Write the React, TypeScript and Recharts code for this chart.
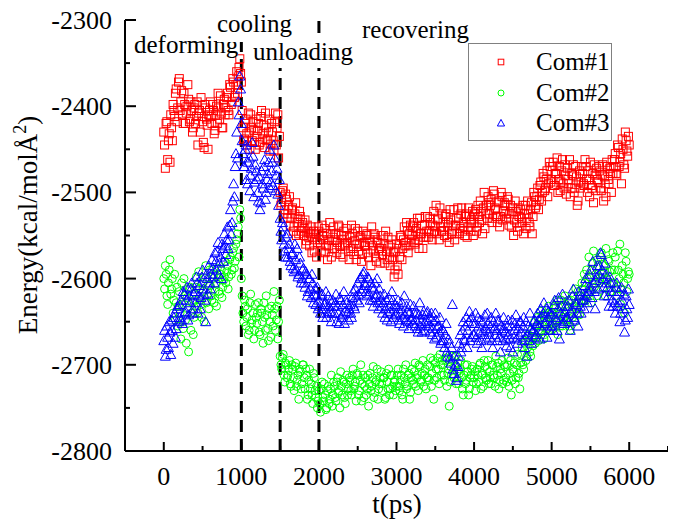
import { ScatterChart, Scatter, XAxis, YAxis, ReferenceLine, Legend } from 'recharts'

// sampled every 20 ps (0..6000), plus in-between samples at 10, 30, ... 5990 ps
const STEP = 20

const com1 = [
  -2430, -2472, -2418, -2440, -2465, -2425, -2398, -2412, -2380, -2402,
  -2368, -2395, -2410, -2385, -2420, -2400, -2392, -2415, -2405, -2425,
  -2398, -2412, -2445, -2405, -2390, -2418, -2448, -2402, -2422, -2410,
  -2395, -2420, -2405, -2428, -2400, -2385, -2415, -2408, -2425, -2392,
  -2402, -2385, -2410, -2378, -2395, -2372, -2388, -2360, -2366, -2345,
  -2372, -2425, -2438, -2415, -2445, -2430, -2410, -2440, -2428, -2450,
  -2435, -2420, -2442, -2405, -2432, -2448, -2425, -2438, -2415, -2444,
  -2430, -2452, -2408, -2425, -2460, -2500, -2512, -2495, -2520, -2508,
  -2525, -2505, -2530, -2518, -2540, -2512, -2535, -2548, -2528, -2540,
  -2550, -2532, -2556, -2545, -2562, -2540, -2552, -2568, -2548, -2558,
  -2545, -2560, -2538, -2555, -2570, -2548, -2562, -2535, -2575, -2552,
  -2565, -2548, -2558, -2540, -2572, -2555, -2545, -2562, -2550, -2568,
  -2552, -2538, -2565, -2556, -2578, -2545, -2560, -2550, -2572, -2558,
  -2562, -2548, -2575, -2555, -2540, -2568, -2552, -2580, -2558, -2565,
  -2550, -2572, -2560, -2545, -2578, -2562, -2585, -2555, -2570, -2590,
  -2560, -2595, -2575, -2552, -2565, -2540, -2558, -2545, -2562, -2538,
  -2550, -2535, -2560, -2542, -2555, -2530, -2548, -2565, -2538, -2552,
  -2528, -2545, -2535, -2555, -2522, -2540, -2548, -2530, -2518, -2545,
  -2535, -2550, -2525, -2540, -2558, -2532, -2545, -2520, -2538, -2548,
  -2530, -2542, -2518, -2535, -2550, -2525, -2540, -2528, -2545, -2522,
  -2535, -2520, -2540, -2528, -2510, -2532, -2518, -2542, -2515, -2505,
  -2525, -2508, -2530, -2502, -2520, -2535, -2512, -2528, -2505, -2522,
  -2515, -2530, -2508, -2525, -2540, -2518, -2532, -2522, -2545, -2528,
  -2520, -2535, -2548, -2515, -2530, -2525, -2540, -2512, -2528, -2505,
  -2515, -2495, -2508, -2488, -2500, -2482, -2495, -2475, -2490, -2470,
  -2485, -2465, -2492, -2478, -2500, -2470, -2488, -2462, -2495, -2480,
  -2472, -2490, -2505, -2478, -2468, -2495, -2482, -2510, -2475, -2488,
  -2478, -2492, -2470, -2500, -2485, -2465, -2495, -2512, -2480, -2472,
  -2488, -2475, -2498, -2468, -2482, -2505, -2470, -2490, -2478, -2462,
  -2470, -2455, -2480, -2448, -2465, -2490, -2450, -2472, -2440, -2458,
  -2445,
]
const com1Mid = [
  -2445, -2420, -2462, -2432, -2410, -2440, -2405, -2385, -2418, -2372,
  -2405, -2382, -2420, -2398, -2408, -2375, -2418, -2395, -2430, -2402,
  -2420, -2395, -2408, -2430, -2412, -2442, -2398, -2415, -2450, -2405,
  -2412, -2398, -2432, -2410, -2420, -2402, -2388, -2425, -2398, -2410,
  -2390, -2405, -2375, -2398, -2368, -2390, -2375, -2385, -2355, -2362,
  -2405, -2440, -2420, -2432, -2408, -2450, -2425, -2418, -2442, -2415,
  -2428, -2445, -2412, -2438, -2422, -2408, -2440, -2430, -2452, -2420,
  -2440, -2418, -2445, -2410, -2435, -2515, -2498, -2525, -2502, -2530,
  -2515, -2538, -2520, -2545, -2525, -2550, -2530, -2522, -2545, -2535,
  -2542, -2560, -2538, -2552, -2548, -2570, -2545, -2555, -2575, -2540,
  -2555, -2568, -2550, -2542, -2562, -2578, -2555, -2548, -2565, -2540,
  -2555, -2570, -2538, -2562, -2550, -2575, -2560, -2542, -2558, -2578,
  -2565, -2548, -2572, -2542, -2560, -2568, -2552, -2580, -2545, -2562,
  -2550, -2570, -2558, -2585, -2562, -2548, -2575, -2555, -2568, -2582,
  -2565, -2550, -2582, -2568, -2552, -2575, -2560, -2578, -2598, -2568,
  -2585, -2565, -2550, -2578, -2555, -2562, -2535, -2570, -2548, -2555,
  -2540, -2558, -2545, -2530, -2565, -2548, -2538, -2552, -2528, -2545,
  -2552, -2530, -2548, -2538, -2545, -2515, -2532, -2555, -2540, -2525,
  -2545, -2528, -2552, -2535, -2520, -2548, -2538, -2555, -2530, -2518,
  -2548, -2525, -2545, -2540, -2528, -2552, -2518, -2535, -2532, -2550,
  -2525, -2545, -2515, -2535, -2522, -2548, -2500, -2525, -2530, -2512,
  -2515, -2535, -2498, -2518, -2528, -2510, -2540, -2500, -2532, -2512,
  -2525, -2505, -2538, -2515, -2522, -2550, -2510, -2535, -2518, -2540,
  -2530, -2515, -2525, -2542, -2510, -2535, -2520, -2548, -2500, -2518,
  -2505, -2520, -2492, -2510, -2478, -2498, -2485, -2505, -2465, -2488,
  -2470, -2492, -2478, -2460, -2485, -2498, -2475, -2490, -2468, -2502,
  -2485, -2462, -2495, -2480, -2500, -2470, -2515, -2488, -2495, -2470,
  -2490, -2462, -2485, -2475, -2505, -2492, -2478, -2468, -2498, -2485,
  -2470, -2495, -2480, -2510, -2490, -2465, -2485, -2472, -2500, -2478,
  -2462, -2478, -2445, -2470, -2455, -2438, -2468, -2430, -2452, -2435,
]

const com2 = [
  -2600, -2585, -2620, -2605, -2578, -2612, -2640, -2595, -2628, -2655,
  -2615, -2670, -2630, -2600, -2648, -2622, -2685, -2610, -2640, -2665,
  -2625, -2598, -2640, -2612, -2630, -2605, -2650, -2585, -2620, -2635,
  -2608, -2625, -2595, -2615, -2632, -2600, -2618, -2590, -2610, -2598,
  -2605, -2585, -2598, -2575, -2590, -2565, -2580, -2555, -2540, -2520,
  -2600, -2640, -2625, -2655, -2635, -2660, -2618, -2648, -2670, -2630,
  -2652, -2628, -2665, -2640, -2675, -2645, -2620, -2658, -2635, -2668,
  -2642, -2615, -2660, -2632, -2650, -2690, -2705, -2688, -2720, -2700,
  -2712, -2695, -2725, -2705, -2730, -2698, -2718, -2740, -2708, -2722,
  -2700, -2728, -2712, -2735, -2705, -2722, -2745, -2715, -2738, -2750,
  -2730, -2755, -2720, -2742, -2735, -2750, -2725, -2740, -2712, -2735,
  -2725, -2742, -2715, -2730, -2708, -2735, -2720, -2745, -2712, -2728,
  -2718, -2735, -2705, -2725, -2742, -2712, -2730, -2700, -2722, -2738,
  -2715, -2728, -2748, -2710, -2725, -2702, -2732, -2718, -2740, -2722,
  -2708, -2730, -2715, -2738, -2720, -2705, -2728, -2712, -2735, -2718,
  -2725, -2705, -2730, -2712, -2740, -2715, -2700, -2725, -2710, -2732,
  -2705, -2722, -2698, -2715, -2730, -2702, -2718, -2695, -2712, -2728,
  -2700, -2718, -2692, -2710, -2740, -2698, -2715, -2705, -2688, -2712,
  -2700, -2718, -2692, -2710, -2748, -2702, -2695, -2715, -2690, -2708,
  -2722, -2705, -2715, -2735, -2700, -2718, -2708, -2728, -2712, -2702,
  -2715, -2730, -2705, -2720, -2698, -2712, -2725, -2702, -2718, -2695,
  -2708, -2722, -2700, -2715, -2690, -2712, -2728, -2705, -2695, -2718,
  -2702, -2720, -2692, -2710, -2735, -2705, -2698, -2715, -2688, -2710,
  -2698, -2680, -2705, -2672, -2690, -2665, -2685, -2660, -2678, -2650,
  -2668, -2645, -2662, -2638, -2655, -2670, -2642, -2658, -2632, -2650,
  -2640, -2658, -2632, -2650, -2665, -2638, -2625, -2655, -2645, -2630,
  -2648, -2625, -2660, -2638, -2620, -2650, -2635, -2615, -2642, -2628,
  -2612, -2595, -2625, -2600, -2575, -2615, -2590, -2568, -2605, -2620,
  -2585, -2600, -2570, -2610, -2592, -2565, -2602, -2580, -2615, -2590,
  -2605, -2575, -2620, -2590, -2560, -2612, -2595, -2640, -2580, -2600,
  -2595,
]
const com2Mid = [
  -2612, -2595, -2630, -2590, -2618, -2600, -2625, -2648, -2610, -2632,
  -2640, -2605, -2658, -2620, -2675, -2635, -2612, -2660, -2628, -2645,
  -2610, -2632, -2592, -2625, -2645, -2615, -2600, -2628, -2608, -2590,
  -2620, -2600, -2628, -2605, -2588, -2615, -2595, -2622, -2602, -2580,
  -2592, -2612, -2578, -2595, -2570, -2588, -2560, -2548, -2575, -2530,
  -2620, -2650, -2632, -2645, -2665, -2628, -2652, -2640, -2660, -2645,
  -2640, -2662, -2635, -2650, -2628, -2660, -2642, -2672, -2650, -2632,
  -2655, -2635, -2648, -2670, -2625, -2700, -2692, -2712, -2698, -2715,
  -2705, -2722, -2700, -2715, -2702, -2725, -2712, -2705, -2728, -2700,
  -2715, -2705, -2740, -2718, -2728, -2735, -2710, -2730, -2725, -2742,
  -2745, -2728, -2738, -2722, -2752, -2730, -2745, -2728, -2748, -2720,
  -2738, -2720, -2732, -2750, -2725, -2718, -2738, -2722, -2735, -2715,
  -2730, -2712, -2728, -2720, -2710, -2735, -2718, -2742, -2712, -2725,
  -2735, -2712, -2722, -2730, -2715, -2738, -2720, -2705, -2728, -2715,
  -2722, -2715, -2740, -2710, -2728, -2735, -2712, -2725, -2720, -2730,
  -2712, -2725, -2718, -2735, -2705, -2722, -2728, -2712, -2740, -2715,
  -2718, -2708, -2725, -2712, -2700, -2720, -2710, -2725, -2705, -2715,
  -2715, -2702, -2725, -2695, -2718, -2705, -2692, -2722, -2700, -2695,
  -2712, -2695, -2725, -2705, -2720, -2690, -2712, -2702, -2722, -2698,
  -2710, -2695, -2728, -2712, -2722, -2700, -2735, -2715, -2705, -2720,
  -2708, -2722, -2712, -2700, -2728, -2710, -2695, -2715, -2705, -2722,
  -2715, -2700, -2712, -2725, -2702, -2698, -2718, -2710, -2722, -2700,
  -2715, -2700, -2725, -2695, -2718, -2708, -2722, -2700, -2715, -2728,
  -2688, -2700, -2675, -2695, -2680, -2672, -2690, -2668, -2662, -2675,
  -2655, -2672, -2648, -2660, -2642, -2665, -2650, -2640, -2660, -2645,
  -2652, -2635, -2648, -2625, -2642, -2655, -2632, -2645, -2620, -2650,
  -2635, -2655, -2625, -2645, -2632, -2612, -2640, -2628, -2620, -2605,
  -2625, -2605, -2590, -2618, -2598, -2628, -2582, -2610, -2595, -2578,
  -2605, -2575, -2595, -2585, -2620, -2600, -2578, -2592, -2605, -2570,
  -2590, -2612, -2568, -2600, -2630, -2585, -2605, -2570, -2615, -2592,
]

const com3 = [
  -2672, -2690, -2655, -2680, -2662, -2648, -2675, -2640, -2658, -2632,
  -2645, -2625, -2652, -2618, -2638, -2610, -2642, -2628, -2605, -2635,
  -2615, -2598, -2640, -2608, -2622, -2590, -2618, -2650, -2600, -2585,
  -2612, -2578, -2598, -2570, -2590, -2558, -2582, -2600, -2565, -2548,
  -2572, -2540, -2555, -2520, -2535, -2490, -2470, -2430, -2395, -2365,
  -2420, -2455, -2470, -2445, -2490, -2460, -2480, -2442, -2505, -2468,
  -2485, -2510, -2520, -2475, -2495, -2462, -2500, -2478, -2450, -2488,
  -2465, -2445, -2498, -2472, -2515, -2530, -2555, -2540, -2568, -2552,
  -2575, -2560, -2585, -2570, -2592, -2578, -2565, -2595, -2582, -2600,
  -2588, -2610, -2595, -2615, -2600, -2622, -2605, -2618, -2630, -2610,
  -2625, -2640, -2618, -2635, -2628, -2645, -2620, -2638, -2650, -2625,
  -2640, -2618, -2632, -2652, -2625, -2642, -2615, -2638, -2628, -2648,
  -2630, -2645, -2615, -2635, -2620, -2605, -2628, -2598, -2612, -2592,
  -2608, -2620, -2600, -2625, -2610, -2632, -2605, -2618, -2628, -2612,
  -2625, -2640, -2618, -2635, -2648, -2622, -2638, -2615, -2645, -2630,
  -2640, -2625, -2652, -2635, -2645, -2620, -2648, -2638, -2658, -2630,
  -2645, -2632, -2655, -2640, -2662, -2628, -2650, -2642, -2660, -2648,
  -2638, -2655, -2645, -2665, -2650, -2640, -2668, -2655, -2645, -2672,
  -2660, -2680, -2652, -2690, -2675, -2698, -2630, -2710, -2700, -2715,
  -2690, -2665, -2680, -2650, -2672, -2645, -2660, -2638, -2668, -2652,
  -2665, -2640, -2675, -2655, -2648, -2680, -2660, -2642, -2670, -2652,
  -2668, -2645, -2680, -2658, -2640, -2672, -2650, -2685, -2660, -2645,
  -2662, -2678, -2648, -2670, -2655, -2685, -2660, -2642, -2675, -2665,
  -2650, -2672, -2645, -2668, -2690, -2655, -2640, -2675, -2660, -2648,
  -2665, -2640, -2655, -2635, -2660, -2628, -2650, -2668, -2638, -2655,
  -2642, -2660, -2625, -2648, -2635, -2670, -2640, -2618, -2652, -2632,
  -2645, -2625, -2660, -2635, -2612, -2648, -2630, -2655, -2620, -2640,
  -2618, -2635, -2600, -2628, -2610, -2590, -2622, -2605, -2635, -2598,
  -2612, -2585, -2572, -2600, -2620, -2595, -2610, -2632, -2605, -2625,
  -2615, -2640, -2605, -2628, -2650, -2610, -2635, -2662, -2620, -2645,
  -2630,
]
const com3Mid = [
  -2660, -2682, -2668, -2650, -2688, -2660, -2645, -2668, -2635, -2650,
  -2630, -2648, -2615, -2640, -2625, -2648, -2620, -2612, -2640, -2618,
  -2628, -2605, -2620, -2635, -2598, -2612, -2625, -2595, -2618, -2605,
  -2595, -2588, -2605, -2580, -2568, -2595, -2575, -2560, -2580, -2562,
  -2555, -2565, -2538, -2548, -2510, -2505, -2455, -2460, -2410, -2380,
  -2440, -2470, -2450, -2485, -2465, -2498, -2472, -2458, -2488, -2475,
  -2500, -2482, -2512, -2490, -2470, -2508, -2485, -2465, -2495, -2475,
  -2492, -2460, -2480, -2502, -2485, -2545, -2535, -2560, -2575, -2548,
  -2565, -2580, -2572, -2588, -2560, -2590, -2598, -2575, -2605, -2590,
  -2605, -2592, -2620, -2600, -2612, -2595, -2628, -2612, -2620, -2635,
  -2632, -2620, -2645, -2630, -2615, -2640, -2632, -2625, -2640, -2632,
  -2628, -2650, -2640, -2622, -2645, -2630, -2652, -2625, -2640, -2635,
  -2640, -2622, -2632, -2612, -2625, -2618, -2600, -2615, -2595, -2605,
  -2615, -2598, -2618, -2605, -2625, -2612, -2622, -2600, -2635, -2620,
  -2632, -2628, -2645, -2625, -2640, -2632, -2650, -2625, -2635, -2642,
  -2632, -2648, -2640, -2628, -2655, -2642, -2632, -2650, -2640, -2648,
  -2652, -2640, -2648, -2658, -2642, -2655, -2662, -2638, -2652, -2640,
  -2650, -2662, -2640, -2658, -2670, -2648, -2655, -2662, -2675, -2658,
  -2672, -2665, -2685, -2670, -2692, -2680, -2705, -2690, -2718, -2702,
  -2675, -2685, -2660, -2670, -2655, -2680, -2650, -2672, -2645, -2665,
  -2652, -2668, -2645, -2662, -2672, -2650, -2665, -2658, -2640, -2662,
  -2655, -2672, -2650, -2665, -2660, -2648, -2668, -2655, -2672, -2658,
  -2670, -2655, -2665, -2680, -2648, -2668, -2652, -2670, -2658, -2650,
  -2662, -2655, -2680, -2650, -2665, -2672, -2658, -2662, -2650, -2668,
  -2652, -2648, -2670, -2645, -2640, -2652, -2635, -2645, -2660, -2640,
  -2655, -2630, -2645, -2660, -2622, -2648, -2632, -2650, -2638, -2645,
  -2632, -2650, -2640, -2620, -2645, -2628, -2640, -2615, -2632, -2625,
  -2625, -2608, -2620, -2615, -2595, -2612, -2580, -2615, -2602, -2585,
  -2595, -2570, -2590, -2610, -2582, -2605, -2620, -2598, -2615, -2632,
  -2628, -2610, -2632, -2615, -2640, -2625, -2618, -2648, -2635, -2612,
]

const xTicks = [-500, 0, 500, 1000, 1500, 2000, 2500, 3000, 3500, 4000, 4500, 5000, 5500, 6000, 6500]
const yTicks = [-2800, -2750, -2700, -2650, -2600, -2550, -2500, -2450, -2400, -2350, -2300]
const stages = [1000, 1500, 2000]

const serif = "'Liberation Serif', 'Times New Roman', serif"
const RED = '#ff0000'
const GREEN = '#00ff00'
const BLUE = '#0000ff'

const toPoints = (main: number[], mid: number[]) =>
  main.map((e, i) => ({ t: i * STEP, e })).concat(mid.map((e, i) => ({ t: i * STEP + STEP / 2, e })))

const Square = ({ cx, cy }: any) => (
  <rect x={cx - 4} y={cy - 4} width={8} height={8} fill="none" stroke={RED} strokeWidth={1} />
)
const Ring = ({ cx, cy }: any) => <circle cx={cx} cy={cy} r={4} fill="none" stroke={GREEN} strokeWidth={1} />
const Tri = ({ cx, cy }: any) => (
  <polygon
    points={`${cx},${cy - 5} ${cx - 5},${cy + 4} ${cx + 5},${cy + 4}`}
    fill="none"
    stroke={BLUE}
    strokeWidth={1}
  />
)

const XTick = ({ x, y, payload }: any) => {
  const major = payload.value % 1000 === 0
  return (
    <g>
      <line x1={x} x2={x} y1={y} y2={y - (major ? 9 : 5)} stroke="#000" strokeWidth={2} />
      {major && (
        <text x={x} y={y + 34} textAnchor="middle" fontFamily={serif} fontSize={26} fill="#000">
          {payload.value}
        </text>
      )}
    </g>
  )
}

const YTick = ({ x, y, payload }: any) => {
  const major = payload.value % 100 === 0
  return (
    <g>
      <line x1={x} x2={x + (major ? 11 : 5)} y1={y} y2={y} stroke="#000" strokeWidth={2} />
      {major && (
        <text x={x - 13} y={y + 9} textAnchor="end" fontFamily={serif} fontSize={26} fill="#000">
          {payload.value}
        </text>
      )}
    </g>
  )
}

const legendItems = [
  { name: 'Com#1', Mark: () => <rect x={-2.8} y={-2.8} width={5.6} height={5.6} fill="none" stroke={RED} /> },
  { name: 'Com#2', Mark: () => <circle r={3} fill="none" stroke={GREEN} /> },
  { name: 'Com#3', Mark: () => <polygon points="0,-3.6 -3.6,3 3.6,3" fill="none" stroke={BLUE} /> },
]

const LegendBox = () => (
  <div style={{ position: 'relative', width: 142, height: 96, border: '1px solid #808080', background: '#fff' }}>
    {legendItems.map(({ name, Mark }, i) => (
      <div key={name} style={{ position: 'absolute', left: 0, top: 18 + i * 30.5 - 15, height: 30, width: 142 }}>
        <svg width={12} height={12} style={{ position: 'absolute', left: 26, top: 9 }}>
          <g transform="translate(6,6)">
            <Mark />
          </g>
        </svg>
        <span
          style={{
            position: 'absolute',
            left: 67,
            top: 0,
            lineHeight: '30px',
            fontFamily: serif,
            fontSize: 25,
            color: '#000',
          }}
        >
          {name}
        </span>
      </div>
    ))}
  </div>
)

const notes = [
  { text: 'deforming', left: 126, top: 24, pad: 0 },
  { text: 'cooling', left: 209, top: 3, pad: 6 },
  { text: 'unloading', left: 245, top: 31, pad: 4 },
  { text: 'recovering', left: 354, top: 9, pad: 0 },
]

export default function App() {
  return (
    <div style={{ position: 'relative', width: 668, height: 515 }}>
      <ScatterChart width={668} height={515} margin={{ top: 12, right: 8, bottom: 0, left: 0 }}>
        <XAxis
          type="number"
          dataKey="t"
          domain={[-500, 6500]}
          ticks={xTicks}
          interval={0}
          height={72}
          tickSize={0}
          tickMargin={0}
          tickLine={false}
          tick={<XTick />}
          axisLine={{ stroke: '#000', strokeWidth: 2 }}
          label={() => (
            <text x={389} y={505} textAnchor="middle" fontFamily={serif} fontSize={27} fill="#000">
              t(ps)
            </text>
          )}
        />
        <YAxis
          type="number"
          dataKey="e"
          domain={[-2800, -2300]}
          ticks={yTicks}
          interval={0}
          width={117}
          tickSize={0}
          tickMargin={0}
          tickLine={false}
          tick={<YTick />}
          axisLine={{ stroke: '#000', strokeWidth: 2 }}
          label={() => (
            <text
              x={29}
              y={217}
              transform="rotate(-90, 29, 217)"
              textAnchor="middle"
              fontFamily={serif}
              fontSize={27}
              fill="#000"
            >
              Energy(kcal/molÅ
              <tspan dy={-11} fontSize={18}>2</tspan>
              <tspan dy={11}>)</tspan>
            </text>
          )}
        />
        {stages.map(s => (
          <ReferenceLine
            key={s}
            segment={[{ x: s, y: -2800 }, { x: s, y: -2300 }]}
            stroke="#000"
            strokeWidth={3}
            strokeDasharray="12 7"
          />
        ))}
        <Legend
          layout="vertical"
          align="center"
          verticalAlign="middle"
          content={() => <LegendBox />}
          wrapperStyle={{ left: 460, top: 35, width: 144, height: 98 }}
        />
        <Scatter name="Com#1" data={toPoints(com1, com1Mid)} shape={<Square />} isAnimationActive={false} />
        <Scatter name="Com#2" data={toPoints(com2, com2Mid)} shape={<Ring />} isAnimationActive={false} />
        <Scatter name="Com#3" data={toPoints(com3, com3Mid)} shape={<Tri />} isAnimationActive={false} />
      </ScatterChart>
      {notes.map(n => (
        <div
          key={n.text}
          style={{
            position: 'absolute',
            left: n.left,
            top: n.top,
            background: '#fff',
            fontFamily: serif,
            fontSize: 25,
            lineHeight: '25px',
            paddingBottom: n.pad,
            color: '#000',
          }}
        >
          {n.text}
        </div>
      ))}
    </div>
  )
}
